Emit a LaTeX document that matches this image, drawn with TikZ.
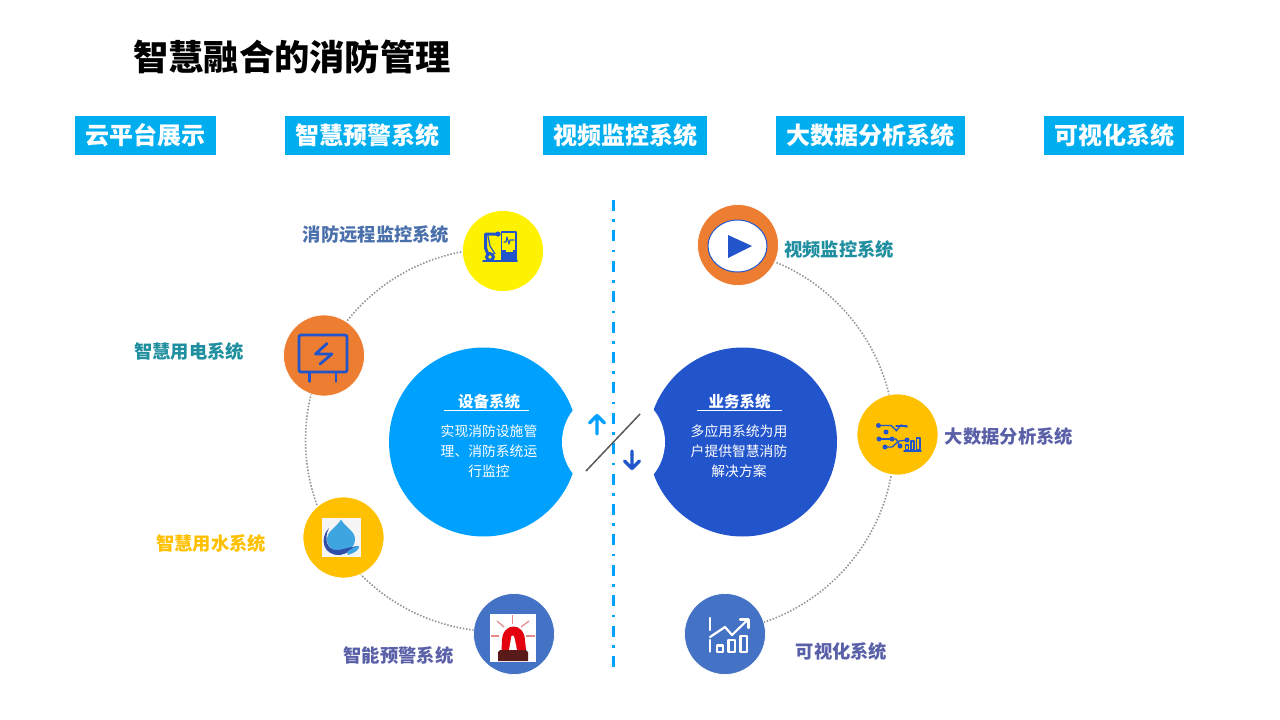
\documentclass[tikz,border=0pt]{standalone}
\usepackage{fontspec}
\setmainfont{Noto Sans CJK SC}
\usetikzlibrary{arrows.meta,shapes.geometric}
\definecolor{skyb}{HTML}{00A0FF}
\definecolor{deepb}{HTML}{2255CC}
\definecolor{btn}{HTML}{00AEEF}
\definecolor{orng}{HTML}{ED7D31}
\definecolor{gold}{HTML}{FFC000}
\definecolor{steel}{HTML}{4472C4}
\definecolor{teal1}{HTML}{1F8FA0}
\definecolor{slate1}{HTML}{4A70AC}
\definecolor{indigo1}{HTML}{5A60A8}
\definecolor{dropc}{HTML}{3FA5E0}
\definecolor{handc}{HTML}{2F4FA8}
\definecolor{alarmr}{HTML}{E3000F}
\definecolor{alarmb}{HTML}{5A1A1A}
\definecolor{rayc}{HTML}{E58A8A}
\tikzset{
  x=1pt,y=-1pt,
  fs/.style={font=\fontsize{#1}{#1}\selectfont},
  fsb/.style={font=\fontsize{#1}{#1}\selectfont\bfseries},
  tab/.style={fill=btn,text=white,fsb=24,inner sep=0pt,minimum height=39pt,anchor=center},
  lab/.style={fsb=18.3,inner sep=0pt,anchor=center},
  dot/.style={circle,draw=white,line width=0.7pt,minimum size=81pt,inner sep=0pt},
  ringline/.style={draw=black!42,line width=1.6pt,dash pattern=on 1.5pt off 1.7pt},
  icon/.style={draw=deepb,line width=2.8pt,line cap=round,line join=round},
  thinicon/.style={draw=deepb,line width=1.5pt,line cap=round,line join=round},
  whiteicon/.style={draw=white,line width=2.6pt,line cap=round,line join=round},
  hd/.style={fsb=15.5,text=white,inner sep=0pt},
  body/.style={fs=13.8,text=white,inner sep=0pt,align=center},
}
\begin{document}
\begin{tikzpicture}
\useasboundingbox (0,0) rectangle (1280,720);
% title
\node[fsb=35.3,inner sep=0pt] (title) at (292,57) {智慧融合的消防管理};
% tabs
\node[tab,minimum width=141pt] (t1) at (145.5,135.5) {云平台展示};
\node[tab,minimum width=165pt] (t2) at (367.5,135.5) {智慧预警系统};
\node[tab,minimum width=164pt] (t3) at (625,135.5) {视频监控系统};
\node[tab,minimum width=189pt] (t4) at (870.5,135.5) {大数据分析系统};
\node[tab,minimum width=140pt] (t5) at (1114,135.5) {可视化系统};
% rings
\draw[ringline] plot[domain=96:264,samples=80] ({497+191.5*cos(\x)},{440+191.5*sin(\x)});
\draw[ringline] plot[domain=-72:76,samples=80] ({702+192.5*cos(\x)},{440+192.5*sin(\x)});
% big circles
\node[circle,fill=skyb,minimum size=189pt,inner sep=0pt] (dev) at (483.5,442) {};
\node[circle,fill=deepb,minimum size=189pt,inner sep=0pt] (biz) at (742.5,442) {};
\node[circle,fill=white,minimum size=103pt,inner sep=0pt] (hub) at (613.5,442) {};
% centre dash-dot axis
\coordinate (axT) at (613.7,200);
\coordinate (axB) at (613.7,667);
\draw[skyb,line width=3pt,dash pattern=on 11pt off 8.4pt on 2.6pt off 8.4pt] (axT) -- (axB);
% diagonal
\coordinate (dgA) at (586,471);
\coordinate (dgB) at (640,414);
\draw[black!65,line width=1.5pt] (dgA) -- (dgB);
% arrows
\draw[skyb,line width=3.4pt,line join=round,line cap=round] (597,434) -- (597,415.5) (589.5,423) -- (597,415.5) -- (604.5,423);
\draw[deepb,line width=3.4pt,line join=round,line cap=round] (632,451) -- (632,468.5) (624.5,461) -- (632,468.5) -- (639.5,461);
% device text
\node[hd] (devh) at (489,401.5) {设备系统};
\coordinate (du1) at (444,410.5); \coordinate (du2) at (529,410.5);
\draw[white,line width=0.8pt] (du1) -- (du2);
\node[body] (d1) at (489,431) {实现消防设施管};
\node[body] (d2) at (489,451) {理、消防系统运};
\node[body] (d3) at (489,471) {行监控};
% business text
\node[hd] (bizh) at (739.5,401.5) {业务系统};
\coordinate (bu1) at (697,410.5); \coordinate (bu2) at (782,410.5);
\draw[white,line width=0.8pt] (bu1) -- (bu2);
\node[body] (b1) at (739,431) {多应用系统为用};
\node[body] (b2) at (739,451) {户提供智慧消防};
\node[body] (b3) at (739,471) {解决方案};
% small circles
\node[dot,fill=yellow] (c1) at (503,251) {};
\node[dot,fill=orng] (c2) at (324,355.5) {};
\node[dot,fill=gold] (c3) at (343.5,537.5) {};
\node[dot,fill=steel] (c4) at (514,634) {};
\node[dot,fill=orng] (c5) at (738,245) {};
\node[dot,fill=gold] (c6) at (897.5,434.5) {};
\node[dot,fill=steel] (c7) at (725,634) {};
% labels
\node[lab,text=slate1] (l1) at (376,234.5) {消防远程监控系统};
\node[lab,text=teal1] (l2) at (189,352) {智慧用电系统};
\node[lab,text=gold] (l3) at (211,544) {智慧用水系统};
\node[lab,text=indigo1] (l4) at (398.5,656) {智能预警系统};
\node[lab,text=teal1] (l5) at (839,250) {视频监控系统};
\node[lab,text=indigo1] (l6) at (1009,436.5) {大数据分析系统};
\node[lab,text=indigo1] (l7) at (841.5,652) {可视化系统};
% icon 1: robot arm and cabinet
\draw[thinicon,line width=2pt] (483,261) -- (517,261);
\draw[thinicon,line width=1.8pt] (501.5,232) rectangle (516,261);
\fill[deepb] (501.5,250) rectangle (516,261);
\fill[yellow] (506,249.5) rectangle (513,252);
\draw[thinicon,line width=1.1pt] (504,242) -- (506,242) -- (507,237) -- (509,244) -- (510,240) -- (514,240);
\draw[deepb,line width=3pt,line cap=round,line join=round] (489,257) -- (485.5,248) -- (485.5,234) -- (498,234);
\draw[deepb,line width=1.2pt] (488,236) -- (490,246) -- (495,254);
\fill[deepb] (498,234) circle (2.6);
\fill[deepb] (490,257) circle (5);
\fill[yellow] (490,257) circle (1.8);
% icon 2: monitor with bolt
\draw[icon,rounded corners=2pt] (299,335) rectangle (347,372);
\draw[icon] (309.5,372) -- (309.5,381.5) (336,372) -- (336,381.5);
\draw[icon] (327,343.5) -- (315.5,354) -- (332,354) -- (320,364);
% icon 3: water image
\fill[black!4] (322,518) rectangle (361,557);
\fill[dropc] (341,519.5) .. controls (345,527) and (355,531) .. (355,539) .. controls (355,556) and (327,556) .. (327,539) .. controls (327,531) and (337,527) .. (341,519.5) -- cycle;
\fill[handc] (329,528) .. controls (319,538) and (323,556) .. (340,555) .. controls (346,554) and (352,550) .. (357,546) .. controls (350,547) and (345,549) .. (338,550) .. controls (328,551) and (323,540) .. (329,528) -- cycle;
\fill[dropc] (347,552) .. controls (351,549) and (356,545) .. (359,546) .. controls (360,549) and (355,553) .. (348,555) -- cycle;
% icon 4: alarm image
\fill[white] (490,614) rectangle (536,662);
\begin{scope}[draw=rayc,line width=1.2pt]
\draw (512.5,615) -- (512.5,624);
\draw (497,621) -- (504,627);
\draw (529,621) -- (521,627);
\draw (491,636) -- (499,636);
\draw (526,636) -- (535,636);
\end{scope}
\fill[alarmr] (501.5,650) -- (502,640) .. controls (503,622) and (524,622) .. (525,640) -- (526,650) -- cycle;
\fill[white] (511.5,636) .. controls (513,634) and (514,636) .. (514.5,638) -- (517,650) -- (509,650) -- cycle;
\fill[alarmb] (498,652) -- (500,650) -- (526,650) -- (528,652) -- (528,661) -- (498,661) -- cycle;
% icon 5: play
\node[ellipse,draw=deepb,fill=white,line width=1pt,minimum width=59pt,minimum height=52pt,inner sep=0pt] (pl) at (737.5,246) {};
\fill[deepb] (728,235) -- (752,246) -- (728,258) -- cycle;
% icon 6: circuit and bars
\begin{scope}[thinicon,line width=1.3pt]
\draw (878.5,425.5) -- (891,425.5) -- (897,431);
\draw (896,426) -- (907,426);
\draw (878.5,439) -- (890,439);
\draw (891,439) -- (896,439) -- (900,446);
\draw (884,447) -- (892,447) -- (899,441) -- (908,440);
\draw (896,431) -- (901,425) -- (907,427);
\end{scope}
\foreach \p in {(878.5,425.5),(886,432),(879,439),(892,439),(885,447),(900,446),(907,440)}
  \fill[deepb] \p circle (2.5);
\draw[thinicon] (905.5,445) rectangle (908.5,449.5);
\draw[thinicon] (911,441) rectangle (914,449.5);
\draw[thinicon] (916.5,438) rectangle (920,449.5);
\draw[thinicon,line width=1.8pt] (904,451) -- (921,451);
% icon 7: chart
\draw[whiteicon] (710,618) -- (710,630) (710,640) -- (710,651.5);
\draw[whiteicon,line width=2.2pt] (710,637) -- (725,627) -- (732,635) -- (747.5,620);
\draw[whiteicon,line width=2.2pt] (740,619.5) -- (748.5,619.5) -- (748.5,628);
\draw[whiteicon,line width=2.1pt] (717,645.5) rectangle (723,652);
\draw[whiteicon,line width=2.1pt] (728.5,640) rectangle (735,652);
\draw[whiteicon,line width=2.1pt] (740.5,636) rectangle (747,652);
\end{tikzpicture}
\end{document}
